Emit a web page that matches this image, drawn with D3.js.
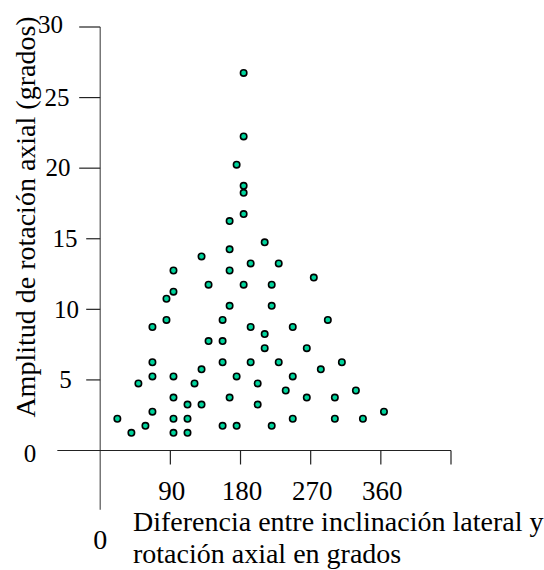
<!DOCTYPE html>
<html>
<head>
<meta charset="utf-8">
<script src="https://cdn.jsdelivr.net/npm/d3@7"></script>
<style>
    body { margin: 0; background: white; }
    text { font-family: "Liberation Serif", "Times New Roman", serif; fill: black; }
</style>
</head>
<body>
<div id="chart"></div>
<script>
// Diferencia entre inclinacion lateral y rotacion axial (grados)
const dif_grados = [
    184, 184, 175, 184, 184, 184, 166, 211, 166, 130,
    193, 229, 94, 166, 139, 184, 220, 94, 85, 166,
    220, 85, 157, 67, 193, 211, 139, 157, 211, 67,
    157, 193, 229, 130, 67, 94, 175, 49, 121, 202,
    94, 166, 112, 130, 202, 67, 22, 94, 112, 58,
    157, 175, 220, 40, 94, 112, 274, 292, 247, 265,
    310, 283, 247, 238, 328, 265, 301, 364, 247, 301,
    337
];
// Amplitud de rotacion axial (grados)
const amplitud = [
    26.75, 22.25, 20.25, 18.75, 18.25, 16.75, 16.25, 14.75, 14.25, 13.75,
    13.25, 13.25, 12.75, 12.75, 11.75, 11.75, 11.75, 11.25, 10.75, 10.25,
    10.25, 9.25, 9.25, 8.75, 8.75, 8.25, 7.75, 7.75, 7.25, 6.25,
    6.25, 6.25, 6.25, 5.75, 5.25, 5.25, 5.25, 4.75, 4.75, 4.75,
    3.75, 3.75, 3.25, 3.25, 3.25, 2.75, 2.25, 2.25, 2.25, 1.75,
    1.75, 1.75, 1.75, 1.25, 1.25, 1.25, 12.25, 9.25, 8.75, 7.25,
    6.25, 5.75, 5.25, 4.25, 4.25, 3.75, 3.75, 2.75, 2.25, 2.25,
    2.25
];

const y_ticks = [0, 5, 10, 15, 20, 25, 30];
const x_ticks = [90, 180, 270, 360, 450];
const x_tick_labels = ["90", "180", "270", "360", ""];

const x_title = ["Diferencia entre inclinación lateral y", "rotación axial en grados"];
const y_title = "Amplitud de rotación axial (grados)";

function plot_scatter(){
    const width = 544;
    const height = 570;

    let svg = d3.select("#chart").append("svg")
        .attr("width", width)
        .attr("height", height);

    svg.append("rect").attr("width", width).attr("height", height).attr("fill", "white");

    // Scales
    let scale_x = d3.scaleLinear().domain([0, 450]).range([100.2, 451]);
    let scale_y = d3.scaleLinear().domain([0, 30]).range([450.5, 27]);

    // y tick labels are not aligned the same in the original, keep their centers here
    let y_label_cx = {0: 30, 5: 65.5, 10: 66.5, 15: 65, 20: 58, 25: 57, 30: 50.5};
    let y_label_dy = {0: 11, 5: 8, 10: 9, 15: 8, 20: 8, 25: 8, 30: 6};

    // Axes lines
    svg.append("line")
        .attr("x1", scale_x(0)).attr("x2", scale_x(0))
        .attr("y1", scale_y(30)).attr("y2", scale_y(-4.2))
        .attr("stroke", "#555").attr("stroke-width", 1.2);

    svg.append("line")
        .attr("x1", scale_x(-55)).attr("x2", scale_x(450))
        .attr("y1", scale_y(0)).attr("y2", scale_y(0))
        .attr("stroke", "#222").attr("stroke-width", 1.2);

    // y ticks
    y_ticks.filter(d => d > 0).forEach(d => {
        let len = d >= 20 ? 21 : 14;
        svg.append("line")
            .attr("x1", scale_x(0) - len).attr("x2", scale_x(0))
            .attr("y1", scale_y(d)).attr("y2", scale_y(d))
            .attr("stroke", "#222").attr("stroke-width", 1.2);
    });
    y_ticks.forEach(d => {
        svg.append("text")
            .attr("x", y_label_cx[d])
            .attr("y", scale_y(d) + y_label_dy[d])
            .attr("text-anchor", "middle")
            .attr("font-size", 25)
            .text(d);
    });

    // x ticks
    x_ticks.forEach((d, i) => {
        svg.append("line")
            .attr("x1", scale_x(d)).attr("x2", scale_x(d))
            .attr("y1", scale_y(0)).attr("y2", scale_y(0) + 14)
            .attr("stroke", "#222").attr("stroke-width", 1.2);
        svg.append("text")
            .attr("x", scale_x(d) + 1.5)
            .attr("y", 499.5)
            .attr("text-anchor", "middle")
            .attr("font-size", 27)
            .text(x_tick_labels[i]);
    });

    // lone zero under the y axis
    svg.append("text")
        .attr("x", scale_x(0))
        .attr("y", 549)
        .attr("text-anchor", "middle")
        .attr("font-size", 28)
        .text("0");

    // Titles
    x_title.forEach((t, i) => {
        svg.append("text")
            .attr("x", 133)
            .attr("y", 531 + i * 32)
            .attr("font-size", 28)
            .text(t);
    });

    svg.append("text")
        .attr("transform", "translate(35,217) rotate(-90)")
        .attr("text-anchor", "middle")
        .attr("font-size", 28)
        .text(y_title);

    // Points
    let points = dif_grados.map((d, i) => ({x: d, y: amplitud[i]}));
    svg.append("g").selectAll("circle")
        .data(points)
        .join("circle")
        .attr("cx", d => scale_x(d.x))
        .attr("cy", d => scale_y(d.y))
        .attr("r", 3.2)
        .attr("fill", "#00d49c")
        .attr("stroke", "black")
        .attr("stroke-width", 1.6);
}

plot_scatter();
</script>
</body>
</html>
